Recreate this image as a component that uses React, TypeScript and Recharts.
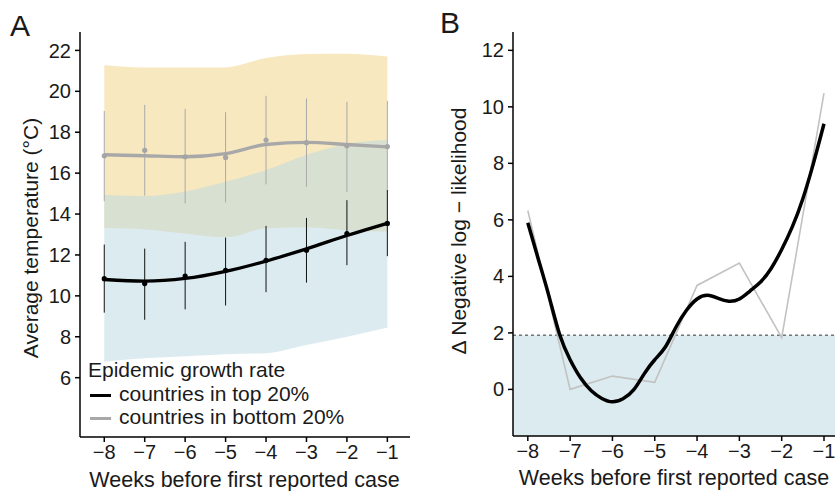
import React from "react"
import {
  Area,
  ComposedChart,
  ErrorBar,
  Line,
  ReferenceArea,
  ReferenceLine,
  Scatter,
  XAxis,
  YAxis,
} from "recharts"

// Panel A: temperature in the weeks before the first reported case
const weeks = [-8, -7, -6, -5, -4, -3, -2, -1]

const topMean = [10.84, 10.6, 10.97, 11.25, 11.74, 12.23, 13.05, 13.54]
const topSmooth = [10.8, 10.72, 10.85, 11.2, 11.7, 12.3, 12.95, 13.55]
const topErrLo = [9.18, 8.83, 9.34, 9.53, 10.18, 10.65, 11.5, 11.94]
const topErrHi = [12.51, 12.31, 12.64, 12.85, 13.42, 13.81, 14.68, 15.17]
const topBandLo = [6.78, 6.95, 7.05, 7.15, 7.2, 7.6, 8.0, 8.45]
const topBandHi = [14.93, 14.88, 15.1, 15.58, 16.15, 16.89, 17.43, 17.62]

const bottomMean = [16.85, 17.12, 16.8, 16.77, 17.62, 17.49, 17.34, 17.3]
const bottomSmooth = [16.9, 16.85, 16.8, 16.95, 17.4, 17.5, 17.4, 17.28]
const bottomErrLo = [14.63, 14.9, 14.52, 14.57, 15.45, 15.33, 15.07, 15.1]
const bottomErrHi = [19.04, 19.34, 19.14, 18.98, 19.78, 19.65, 19.49, 19.53]
const bottomBandLo = [13.32, 13.25, 13.05, 12.86, 13.3, 13.35, 13.2, 13.15]
const bottomBandHi = [21.28, 21.17, 21.17, 21.17, 21.63, 21.82, 21.84, 21.7]

const tempTicks = [6, 8, 10, 12, 14, 16, 18, 20, 22]

// Panel B: delta negative log-likelihood per lag
const nllRaw = [6.33, 0.0, 0.47, 0.25, 3.68, 4.47, 1.83, 10.49]
const smoothWeeks = [
  -8, -7.75, -7.5, -7.25, -7, -6.75, -6.5, -6.25, -6, -5.75, -5.5, -5.25, -5,
  -4.75, -4.5, -4.25, -4, -3.75, -3.5, -3.25, -3, -2.75, -2.5, -2.25, -2, -1.75,
  -1.5, -1.25, -1,
]
const nllSmooth = [
  5.9, 4.6, 3.3, 1.95, 1.05, 0.4, -0.05, -0.32, -0.44, -0.33, -0.02, 0.55, 1.05,
  1.5, 2.2, 2.8, 3.2, 3.33, 3.22, 3.12, 3.2, 3.48, 3.8, 4.28, 4.95, 5.75,
  6.75, 8.0, 9.4,
]
const nllThreshold = 1.92
const nllTicks = [0, 2, 4, 6, 8, 10, 12]

const rowsA = weeks.map((w, i) => ({
  week: w,
  topMean: topMean[i],
  topSmooth: topSmooth[i],
  topErr: [topMean[i] - topErrLo[i], topErrHi[i] - topMean[i]],
  topBand: [topBandLo[i], topBandHi[i]],
  bottomMean: bottomMean[i],
  bottomSmooth: bottomSmooth[i],
  bottomErr: [bottomMean[i] - bottomErrLo[i], bottomErrHi[i] - bottomMean[i]],
  bottomBand: [bottomBandLo[i], bottomBandHi[i]],
}))

const rawB = weeks.map((w, i) => ({ week: w, nll: nllRaw[i] }))
const smoothB = smoothWeeks.map((w, i) => ({ week: w, nll: nllSmooth[i] }))

const FONT = "'Liberation Sans', Arial, Helvetica, sans-serif"
const tick = { fill: "#1a1a1a", fontSize: 20, fontFamily: FONT }
const axisLine = { stroke: "#000", strokeWidth: 1.5 }
const tickLine = { stroke: "#000", strokeWidth: 1.5 }
const minus = (v: number) => (v < 0 ? `\u2212${-v}` : `${v}`)

const dot = (color: string) => (p: any) =>
  <circle cx={p.cx} cy={p.cy} r={2.6} fill={color} />

export default function App() {
  return (
    <div
      style={{
        position: "absolute",
        left: 0,
        top: 0,
        width: 835,
        height: 491,
        overflow: "hidden",
        background: "#fff",
        fontFamily: FONT,
      }}
    >
      <div style={{ position: "absolute", left: 0, top: 0 }}>
        <ComposedChart
          width={420}
          height={491}
          data={rowsA}
          margin={{ top: 32, right: 10, bottom: 0, left: 0 }}
        >
          <XAxis
            dataKey="week"
            type="number"
            domain={[-8.6, -0.44]}
            ticks={weeks}
            allowDataOverflow
            height={54}
            tick={tick}
            tickSize={5}
            tickMargin={3}
            axisLine={axisLine}
            tickLine={tickLine}
            tickFormatter={minus}
          />
          <YAxis
            type="number"
            domain={[3.1, 22.9]}
            ticks={tempTicks}
            allowDataOverflow
            width={80}
            tick={tick}
            tickSize={5}
            tickMargin={4}
            axisLine={axisLine}
            tickLine={tickLine}
          />
          <Area
            dataKey="bottomBand"
            type="monotone"
            stroke="none"
            fill="#F7E8C0"
            fillOpacity={1}
            isAnimationActive={false}
          />
          <Area
            dataKey="topBand"
            type="monotone"
            stroke="none"
            fill="#B9D7E1"
            fillOpacity={0.5}
            isAnimationActive={false}
          />
          <Scatter dataKey="bottomMean" shape={dot("#a5a5a5")} isAnimationActive={false}>
            <ErrorBar dataKey="bottomErr" direction="y" width={0} stroke="#a9a9a9" strokeWidth={1} />
          </Scatter>
          <Scatter dataKey="topMean" shape={dot("#000")} isAnimationActive={false}>
            <ErrorBar dataKey="topErr" direction="y" width={0} stroke="#111" strokeWidth={1} />
          </Scatter>
          <Line
            dataKey="bottomSmooth"
            type="monotone"
            stroke="#a8a8a8"
            strokeWidth={3.3}
            dot={false}
            isAnimationActive={false}
          />
          <Line
            dataKey="topSmooth"
            type="monotone"
            stroke="#000"
            strokeWidth={3.3}
            dot={false}
            isAnimationActive={false}
          />
        </ComposedChart>
      </div>

      <div style={{ position: "absolute", left: 420, top: 0 }}>
        <ComposedChart width={415} height={491} margin={{ top: 32, right: 0, bottom: 0, left: 0 }}>
          <XAxis
            dataKey="week"
            type="number"
            domain={[-8.35, -0.74]}
            ticks={weeks}
            allowDataOverflow
            height={55}
            tick={tick}
            tickSize={5}
            tickMargin={3}
            axisLine={axisLine}
            tickLine={tickLine}
            tickFormatter={minus}
          />
          <YAxis
            type="number"
            domain={[-1.65, 12.65]}
            ticks={nllTicks}
            allowDataOverflow
            width={93}
            tick={tick}
            tickSize={5}
            tickMargin={4}
            axisLine={axisLine}
            tickLine={tickLine}
          />
          <ReferenceArea
            x1={-8.35}
            x2={-0.74}
            y1={-1.65}
            y2={nllThreshold}
            fill="#DCEBF0"
            fillOpacity={1}
            stroke="none"
          />
          <ReferenceLine y={nllThreshold} stroke="#333" strokeWidth={1} strokeDasharray="3 3" />
          <Line
            data={rawB}
            dataKey="nll"
            type="linear"
            stroke="#c2c2c2"
            strokeWidth={1.6}
            dot={false}
            isAnimationActive={false}
          />
          <Line
            data={smoothB}
            dataKey="nll"
            type="natural"
            stroke="#000"
            strokeWidth={3.5}
            dot={false}
            isAnimationActive={false}
          />
        </ComposedChart>
      </div>

      <svg
        width={835}
        height={491}
        style={{ position: "absolute", left: 0, top: 0, pointerEvents: "none" }}
        fontFamily={FONT}
      >
        <text x={10} y={36} fontSize={30} fill="#1a1a1a">A</text>
        <text x={440} y={33} fontSize={30} fill="#1a1a1a">B</text>
        <text
          transform="translate(37.5,238) rotate(-90)"
          textAnchor="middle"
          fontSize={21}
          fill="#1a1a1a"
        >
          Average temperature (°C)
        </text>
        <text
          transform="translate(466,231) rotate(-90)"
          textAnchor="middle"
          fontSize={21}
          fill="#1a1a1a"
        >
          Δ Negative log − likelihood
        </text>
        <text x={244.5} y={487} textAnchor="middle" fontSize={21.5} fill="#1a1a1a">
          Weeks before first reported case
        </text>
        <text x={674} y={485} textAnchor="middle" fontSize={21.5} fill="#1a1a1a">
          Weeks before first reported case
        </text>
        <text x={88} y={377} fontSize={21} fill="#1a1a1a">Epidemic growth rate</text>
        <line x1={90} x2={111} y1={395.5} y2={395.5} stroke="#000" strokeWidth={3} />
        <text x={119} y={401} fontSize={21} fill="#1a1a1a">countries in top 20%</text>
        <line x1={90} x2={111} y1={418.5} y2={418.5} stroke="#a8a8a8" strokeWidth={3} />
        <text x={119} y={424} fontSize={21} fill="#1a1a1a">countries in bottom 20%</text>
      </svg>
    </div>
  )
}
